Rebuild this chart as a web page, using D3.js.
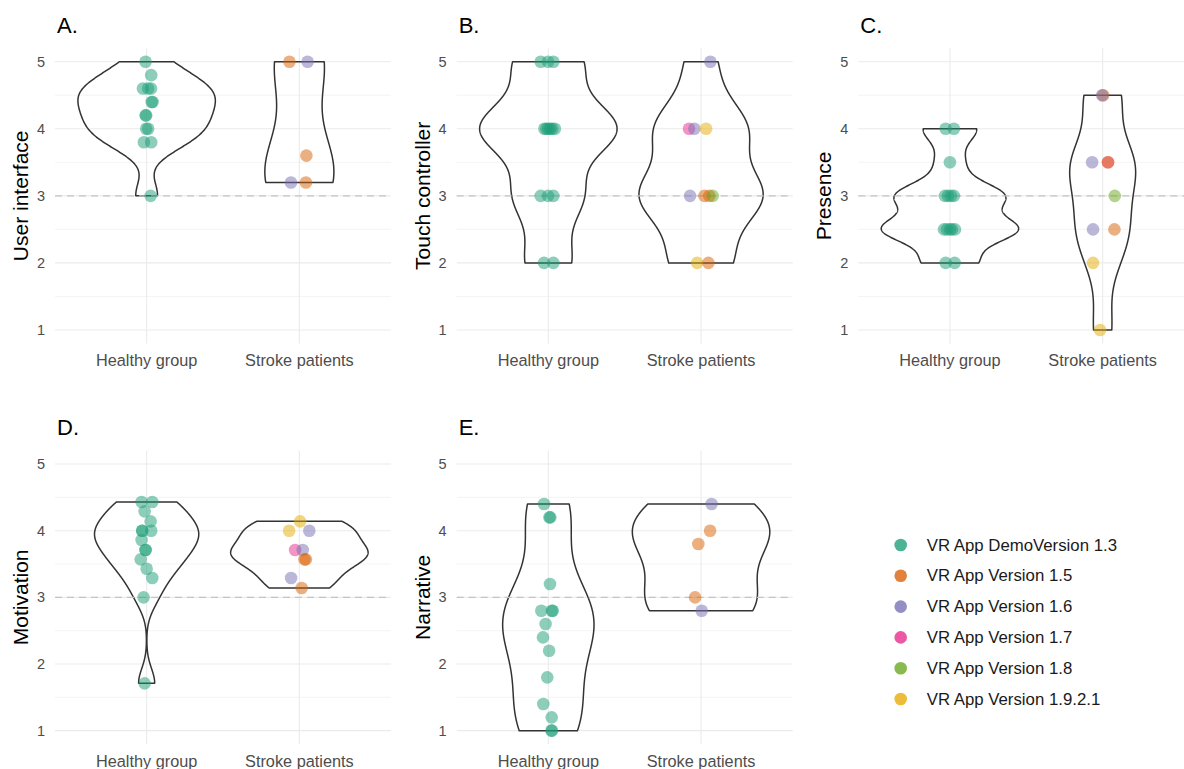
<!DOCTYPE html>
<html>
<head>
<meta charset="utf-8">
<script src="https://cdn.jsdelivr.net/npm/d3@7"></script>
<style>
  html, body { margin: 0; padding: 0; background: #ffffff; }
  svg { display: block; font-family: "Liberation Sans", Arial, sans-serif; }
</style>
</head>
<body>
<svg id="chart" width="1184" height="769"></svg>
<script>
// ---- data -------------------------------------------------------------
const groups = ["Healthy group", "Stroke patients"];
const versions = [
  "VR App DemoVersion 1.3",
  "VR App Version 1.5",
  "VR App Version 1.6",
  "VR App Version 1.7",
  "VR App Version 1.8",
  "VR App Version 1.9.2.1"
];
const panelLetters = ["A.", "B.", "C.", "D.", "E."];
const panelMeasures = ["User interface", "Touch controller", "Presence", "Motivation", "Narrative"];
const yTicks = [1, 2, 3, 4, 5];
const neutralScore = 3;

// Healthy group scores (all DemoVersion 1.3) and their horizontal jitter (category units)
const uiHealthy     = [5, 4.8, 4.6, 4.6, 4.6, 4.4, 4.4, 4.2, 4.2, 4.0, 4.0, 3.8, 3.8, 3.0];
const uiHealthyJit  = [-0.007, 0.030, -0.024, 0.010, 0.029, 0.033, 0.039, -0.007, -0.003, -0.003, 0.010, -0.018, 0.030, 0.026];
const tcHealthy     = [5, 5, 5, 4, 4, 4, 4, 4, 4, 3, 3, 3, 2, 2];
const tcHealthyJit  = [-0.050, -0.002, 0.033, -0.026, -0.013, 0.000, 0.013, 0.026, 0.043, -0.050, -0.002, 0.033, -0.028, 0.033];
const prHealthy     = [4, 4, 3.5, 3, 3, 3, 3, 2.5, 2.5, 2.5, 2.5, 2.5, 2, 2];
const prHealthyJit  = [-0.028, 0.026, 0.000, -0.033, -0.013, 0.007, 0.026, -0.039, -0.020, 0.000, 0.013, 0.033, -0.028, 0.031];
const moHealthy     = [4.43, 4.43, 4.29, 4.14, 4.0, 4.0, 4.0, 3.86, 3.71, 3.71, 3.57, 3.43, 3.29, 3.0, 1.71];
const moHealthyJit  = [-0.033, 0.037, -0.013, 0.026, -0.029, -0.029, 0.030, -0.033, -0.007, -0.007, -0.039, 0.000, 0.037, -0.020, -0.013];
const naHealthy     = [4.4, 4.2, 4.2, 3.2, 2.8, 2.8, 2.8, 2.6, 2.4, 2.2, 1.8, 1.4, 1.2, 1.0, 1.0];
const naHealthyJit  = [-0.028, 0.007, 0.013, 0.011, -0.046, 0.023, 0.029, -0.018, -0.035, 0.005, -0.007, -0.033, 0.022, 0.020, 0.024];

// Stroke patient scores, app version index of each patient, and jitter
const uiStroke      = [5, 5, 3.6, 3.2, 3.2];
const uiStrokeVer   = [1, 2, 1, 2, 1];
const uiStrokeJit   = [-0.065, 0.054, 0.046, -0.055, 0.043];
const tcStroke      = [5, 4, 4, 4, 3, 3, 3, 3, 2, 2];
const tcStrokeVer   = [2, 3, 2, 5, 2, 1, 1, 4, 5, 1];
const tcStrokeJit   = [0.061, -0.079, -0.044, 0.033, -0.072, 0.022, 0.054, 0.076, -0.026, 0.048];
const prStroke      = [4.5, 4.5, 3.5, 3.5, 3.5, 3, 2.5, 2.5, 2, 1];
const prStrokeVer   = [1, 2, 2, 3, 1, 4, 2, 1, 5, 5];
const prStrokeJit   = [0.003, -0.003, -0.069, 0.035, 0.035, 0.079, -0.063, 0.077, -0.063, -0.017];
const moStroke      = [4.14, 4.0, 4.0, 3.71, 3.71, 3.57, 3.57, 3.29, 3.14];
const moStrokeVer   = [5, 5, 2, 3, 2, 1, 1, 2, 1];
const moStrokeJit   = [0.005, -0.067, 0.065, -0.028, 0.022, 0.033, 0.043, -0.054, 0.015];
const naStroke      = [4.4, 4.0, 3.8, 3.0, 2.8];
const naStrokeVer   = [2, 1, 1, 1, 2];
const naStrokeJit   = [0.069, 0.059, -0.018, -0.039, 0.004];

// ---- styling -----------------------------------------------------------
const palette = ["#1B9E77", "#D95F02", "#7570B3", "#E7298A", "#66A61E", "#E6AB02"];
const colour = d3.scaleOrdinal().domain(d3.range(versions.length)).range(palette);

const panels = [
  { healthy: uiHealthy, hJit: uiHealthyJit, stroke: uiStroke, sVer: uiStrokeVer, sJit: uiStrokeJit },
  { healthy: tcHealthy, hJit: tcHealthyJit, stroke: tcStroke, sVer: tcStrokeVer, sJit: tcStrokeJit },
  { healthy: prHealthy, hJit: prHealthyJit, stroke: prStroke, sVer: prStrokeVer, sJit: prStrokeJit },
  { healthy: moHealthy, hJit: moHealthyJit, stroke: moStroke, sVer: moStrokeVer, sJit: moStrokeJit },
  { healthy: naHealthy, hJit: naHealthyJit, stroke: naStroke, sVer: naStrokeVer, sJit: naStrokeJit }
];

const colLefts = [55, 456.7, 858.3];
const panelWidth = 336;
const rows = [
  { top: 48.3, bottom: 343.4, titleY: 33.3, labelY: 366 },
  { top: 450.7, bottom: 744.0, titleY: 435, labelY: 766.5 }
];

const svg = d3.select("#chart");

// Gaussian kernel density with R's bw.nrd0 bandwidth (as used by violin plots)
function bwNrd0(x) {
  const sorted = x.slice().sort(d3.ascending);
  const sd = d3.deviation(sorted) || 0;
  const iqr = d3.quantileSorted(sorted, 0.75) - d3.quantileSorted(sorted, 0.25);
  let lo = Math.min(sd, iqr / 1.34);
  if (!(lo > 0)) lo = sd || Math.abs(sorted[0]) || 1;
  return 0.9 * lo * Math.pow(sorted.length, -0.2);
}
function kde(values) {
  const bw = bwNrd0(values);
  const n = values.length;
  const lo = d3.min(values), hi = d3.max(values);
  const grid = d3.range(512).map(i => lo + (hi - lo) * i / 511);
  return grid.map(y => {
    const s = d3.sum(values, v => Math.exp(-0.5 * ((y - v) / bw) ** 2));
    return [y, s / (n * bw * Math.sqrt(2 * Math.PI))];
  });
}

panels.forEach((p, i) => {
  const row = rows[Math.floor(i / 3)];
  const left = colLefts[i % 3];
  const g = svg.append("g");

  const x = d3.scalePoint().domain(groups).range([left, left + panelWidth]).padding(0.6);
  const step = x.step();
  const y = d3.scaleLinear().domain([0.8, 5.2]).range([row.bottom, row.top]);

  // grid
  const right = Math.min(left + panelWidth, 1184);
  g.selectAll(".minor").data(d3.range(1.5, 5, 1)).join("line")
    .attr("x1", left).attr("x2", right)
    .attr("y1", d => y(d)).attr("y2", d => y(d))
    .attr("stroke", "#ededed").attr("stroke-width", 0.6);
  g.selectAll(".major").data(yTicks).join("line")
    .attr("x1", left).attr("x2", right)
    .attr("y1", d => y(d)).attr("y2", d => y(d))
    .attr("stroke", "#ebebeb").attr("stroke-width", 1.1);
  g.selectAll(".vmajor").data(groups).join("line")
    .attr("x1", d => x(d)).attr("x2", d => x(d))
    .attr("y1", row.top).attr("y2", row.bottom)
    .attr("stroke", "#ebebeb").attr("stroke-width", 1.1);

  // axis text
  g.selectAll(".ytick").data(yTicks).join("text")
    .attr("x", left - 10).attr("y", d => y(d))
    .attr("text-anchor", "end").attr("dominant-baseline", "central")
    .attr("font-size", 14.5).attr("fill", "#4d4d4d")
    .text(d => d);
  g.selectAll(".xtick").data(groups).join("text")
    .attr("x", d => x(d)).attr("y", row.labelY)
    .attr("text-anchor", "middle")
    .attr("font-size", 16.3).attr("fill", "#4d4d4d")
    .text(d => d);
  g.append("text")
    .attr("transform", `translate(${left - 27},${(row.top + row.bottom) / 2}) rotate(-90)`)
    .attr("text-anchor", "middle")
    .attr("font-size", 21).attr("fill", "#000")
    .text(panelMeasures[i]);
  g.append("text")
    .attr("x", left + 2).attr("y", row.titleY)
    .attr("font-size", 22).attr("fill", "#000")
    .text(panelLetters[i]);

  // violins (area scaled to the widest density in the panel)
  const dens = [kde(p.healthy), kde(p.stroke)];
  const maxD = d3.max(dens, d => d3.max(d, e => e[1]));
  dens.forEach((d, gi) => {
    const cx = x(groups[gi]);
    const half = v => v / maxD * 0.45 * step;
    const pts = d.map(e => [cx - half(e[1]), y(e[0])])
      .concat(d.slice().reverse().map(e => [cx + half(e[1]), y(e[0])]));
    g.append("path")
      .attr("d", d3.line()(pts) + "Z")
      .attr("fill", "none")
      .attr("stroke", "#333333").attr("stroke-width", 1.5)
      .attr("stroke-linejoin", "round");
  });

  // neutral reference line
  g.append("line")
    .attr("x1", left).attr("x2", right)
    .attr("y1", y(neutralScore)).attr("y2", y(neutralScore))
    .attr("stroke", "#c4c4c4").attr("stroke-width", 1.2)
    .attr("stroke-dasharray", "7,5");

  // jittered points
  const pointsData = p.healthy.map((v, k) => ({ g: groups[0], v, ver: 0, j: p.hJit[k] }))
    .concat(p.stroke.map((v, k) => ({ g: groups[1], v, ver: p.sVer[k], j: p.sJit[k] })));
  g.selectAll(".pt").data(pointsData).join("circle")
    .attr("cx", d => x(d.g) + d.j * step)
    .attr("cy", d => y(d.v))
    .attr("r", 6.3)
    .attr("fill", d => colour(d.ver))
    .attr("fill-opacity", 0.5);
});

// legend
const ly = d3.scalePoint().domain(versions).range([545, 699]);
const legend = svg.append("g");
legend.selectAll("circle").data(versions).join("circle")
  .attr("cx", 900.7).attr("cy", d => ly(d)).attr("r", 6.3)
  .attr("fill", (d, k) => colour(k)).attr("fill-opacity", 0.78);
legend.selectAll("text").data(versions).join("text")
  .attr("x", 926.7).attr("y", d => ly(d))
  .attr("dominant-baseline", "central")
  .attr("font-size", 16.8).attr("fill", "#1a1a1a")
  .text(d => d);
</script>
</body>
</html>
